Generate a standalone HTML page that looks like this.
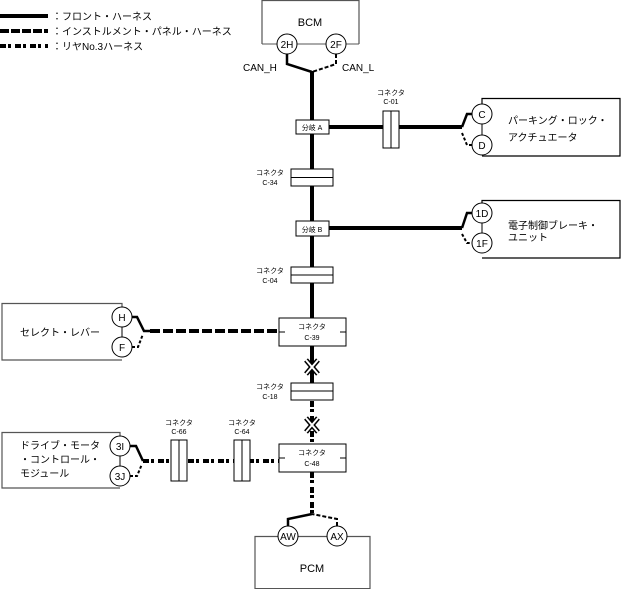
<!DOCTYPE html>
<html><head><meta charset="utf-8"><style>
html,body{margin:0;padding:0;background:#fff;}
svg{display:block;font-family:"Liberation Sans","Noto Sans CJK JP",sans-serif;}
</style></head><body>
<svg width="624" height="589" viewBox="0 0 624 589" xmlns="http://www.w3.org/2000/svg">
<g fill="none" stroke="#000">
<!-- legend -->
<line x1="0" y1="16" x2="48" y2="16" stroke-width="4"/>
<line x1="0" y1="31" x2="48" y2="31" stroke-width="4" stroke-dasharray="9,2"/>
<line x1="0" y1="46" x2="48" y2="46" stroke-width="4" stroke-dasharray="6,2,3,4"/>

<!-- BCM -->
<path d="M262,44 V0.5 H359 V44" stroke="#555" stroke-width="1.2"/>
<line x1="262" y1="44" x2="277" y2="44" stroke="#555"/>
<line x1="297" y1="44" x2="326" y2="44" stroke="#555"/>
<line x1="346" y1="44" x2="359" y2="44" stroke="#555"/>
<circle cx="287" cy="44" r="10" fill="#fff"/>
<circle cx="336" cy="44" r="10" fill="#fff"/>
<path d="M287,54 V64 L312,72" stroke-width="2.5"/>
<path d="M336,54 V64 L312,72" stroke-width="2" stroke-dasharray="4,2"/>
<line x1="312" y1="71" x2="312" y2="318" stroke-width="4"/>

<!-- branch A -->
<line x1="329" y1="127" x2="462" y2="127" stroke-width="4"/>
<path d="M462,127 L467,114 H472" stroke-width="2.5"/>
<path d="M462,133 L467,145 H472" stroke-width="2" stroke-dasharray="3,2"/>
<rect x="296" y="120" width="33" height="14" fill="#fff"/>
<rect x="383" y="111" width="8" height="37" fill="#fff"/>
<rect x="391" y="111" width="8" height="37" fill="#fff"/>
<path d="M482,104 V98.5 H620 V156 H482" stroke-width="1.2"/>
<line x1="482" y1="114" x2="482" y2="145"/>
<circle cx="482" cy="114" r="10" fill="#fff"/>
<circle cx="482" cy="145" r="10" fill="#fff"/>

<!-- C-34 -->
<rect x="291" y="169" width="42" height="17" fill="#fff"/>
<line x1="291" y1="177.5" x2="333" y2="177.5"/>

<!-- branch B -->
<line x1="329" y1="228" x2="462" y2="228" stroke-width="4"/>
<path d="M462,228 L467,213 H472" stroke-width="2.5"/>
<path d="M462,234 L467,243 H472" stroke-width="2" stroke-dasharray="3,2"/>
<rect x="296" y="221" width="33" height="15" fill="#fff"/>
<path d="M482,203 V200.5 H620 V258 H482" stroke-width="1.2"/>
<line x1="482" y1="213" x2="482" y2="243"/>
<circle cx="482" cy="213" r="10" fill="#fff"/>
<circle cx="482" cy="243" r="10" fill="#fff"/>

<!-- C-04 -->
<rect x="291" y="267" width="42" height="16" fill="#fff"/>
<line x1="291" y1="275" x2="333" y2="275"/>

<!-- select lever -->
<line x1="150" y1="331" x2="279" y2="331" stroke-width="4" stroke-dasharray="10,3"/>
<path d="M132,317 H137 L144,331 H150" stroke-width="2.5"/>
<path d="M132,347 H138 L143,334" stroke-width="2" stroke-dasharray="3,2"/>
<path d="M122,307 V303.5 H2 V360 H122" stroke="#555" stroke-width="1.2"/>
<line x1="122" y1="317" x2="122" y2="347"/>
<circle cx="122" cy="317" r="10" fill="#fff"/>
<circle cx="122" cy="347" r="10" fill="#fff"/>

<!-- C-39 -->
<rect x="279" y="318" width="67" height="28" fill="#fff"/>
<line x1="279" y1="332" x2="285" y2="332"/>
<line x1="340" y1="332" x2="346" y2="332"/>
<line x1="312" y1="346" x2="312" y2="383" stroke-width="4"/>
<path d="M306,360 L318,374 M318,360 L306,374" stroke-width="5"/>
<path d="M306,360 L318,374 M318,360 L306,374" stroke="#fff" stroke-width="2"/>

<!-- C-18 -->
<rect x="291" y="383" width="42" height="17" fill="#fff"/>
<line x1="291" y1="391" x2="333" y2="391"/>
<line x1="312" y1="401" x2="312" y2="444" stroke-width="4" stroke-dasharray="6,2,3,4"/>
<path d="M306,418 L318,432 M318,418 L306,432" stroke-width="5"/>
<path d="M306,418 L318,432 M318,418 L306,432" stroke="#fff" stroke-width="2"/>

<!-- DMC -->
<line x1="143" y1="461" x2="279" y2="461" stroke-width="4" stroke-dasharray="6,2,3,4"/>
<path d="M130,446 H136 L143,461" stroke-width="2.5"/>
<path d="M130,476 H137 L142,464" stroke-width="2" stroke-dasharray="3,2"/>
<path d="M120,436 V432.5 H2 V488 H120" stroke="#555" stroke-width="1.2"/>
<line x1="120" y1="446" x2="120" y2="476"/>
<circle cx="120" cy="446" r="10" fill="#fff"/>
<circle cx="120" cy="476" r="10" fill="#fff"/>
<rect x="171" y="440" width="8" height="41" fill="#fff"/>
<rect x="179" y="440" width="8" height="41" fill="#fff"/>
<rect x="234" y="440" width="8" height="41" fill="#fff"/>
<rect x="242" y="440" width="8" height="41" fill="#fff"/>

<!-- C-48 -->
<rect x="279" y="444" width="67" height="28" fill="#fff"/>
<line x1="279" y1="458" x2="285" y2="458"/>
<line x1="340" y1="458" x2="346" y2="458"/>
<line x1="312" y1="472" x2="312" y2="515" stroke-width="4" stroke-dasharray="6,2,3,4"/>

<!-- PCM -->
<path d="M288,526 V519 L312,514" stroke-width="2.5"/>
<path d="M337,526 V519 L312,514" stroke-width="2" stroke-dasharray="4,2"/>
<path d="M278,536.5 H255 V589 M370,589 V536.5 H347 M298,536.5 H327" stroke="#555" stroke-width="1.2"/>
<line x1="255" y1="588.5" x2="370" y2="588.5" stroke="#555"/>
<circle cx="288" cy="536" r="10" fill="#fff"/>
<circle cx="337" cy="536" r="10" fill="#fff"/>
</g>

<g fill="#000" font-size="10">
<text x="52" y="20">：フロント・ハーネス</text>
<text x="52" y="35">：インストルメント・パネル・ハーネス</text>
<text x="52" y="50">：リヤNo.3ハーネス</text>
<g text-anchor="middle">
<text x="310" y="26" font-size="11">BCM</text>
<text x="287" y="48">2H</text>
<text x="336" y="48">2F</text>
<text x="482" y="118">C</text>
<text x="482" y="149">D</text>
<text x="482" y="217">1D</text>
<text x="482" y="247">1F</text>
<text x="122" y="321">H</text>
<text x="122" y="351">F</text>
<text x="120" y="450">3I</text>
<text x="120" y="480">3J</text>
<text x="288" y="540">AW</text>
<text x="337" y="540">AX</text>
<text x="312" y="572" font-size="11">PCM</text>
</g>
<text x="243" y="71">CAN_H</text>
<text x="342" y="71">CAN_L</text>
<text x="508" y="124">パーキング・ロック・</text>
<text x="508" y="141">アクチュエータ</text>
<text x="508" y="229">電子制御ブレーキ・</text>
<text x="508" y="241">ユニット</text>
<text x="20" y="336">セレクト・レバー</text>
<text x="20" y="449">ドライブ・モータ</text>
<text x="20" y="463">・コントロール・</text>
<text x="20" y="477">モジュール</text>
<g font-size="7" text-anchor="middle">
<text x="312" y="130">分岐 A</text>
<text x="312" y="232">分岐 B</text>
<text x="391" y="95">コネクタ</text><text x="391" y="104">C-01</text>
<text x="270" y="175">コネクタ</text><text x="270" y="185">C-34</text>
<text x="270" y="273">コネクタ</text><text x="270" y="283">C-04</text>
<text x="312" y="329">コネクタ</text><text x="312" y="340">C-39</text>
<text x="270" y="389">コネクタ</text><text x="270" y="399">C-18</text>
<text x="312" y="455">コネクタ</text><text x="312" y="466">C-48</text>
<text x="179" y="425">コネクタ</text><text x="179" y="434">C-66</text>
<text x="242" y="425">コネクタ</text><text x="242" y="434">C-64</text>
</g>
</g>
</svg>
</body></html>
